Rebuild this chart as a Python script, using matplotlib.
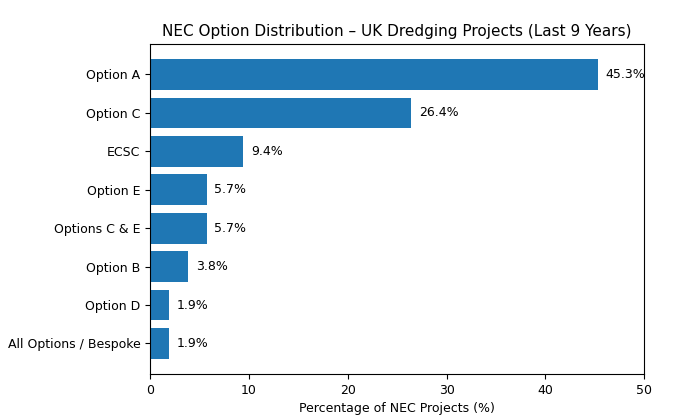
import matplotlib

matplotlib.use("Agg")
import matplotlib.pyplot as plt

options = ["Option A", "Option C", "ECSC", "Option E", "Options C & E",
           "Option B", "Option D", "All Options / Bespoke"]
shares = [45.3, 26.4, 9.4, 5.7, 5.7, 3.8, 1.9, 1.9]

fig, ax = plt.subplots(figsize=(6.83, 4.2), dpi=100)
fig.subplots_adjust(left=0.22, right=0.943, top=0.895, bottom=0.11)

bars = ax.barh(options, shares, color="#1f77b4")
ax.invert_yaxis()
for b, v in zip(bars, shares):
    ax.text(v + 0.8, b.get_y() + b.get_height() / 2, f"{v:.1f}%",
            va="center", fontsize=9)

ax.set_xlim(0, 50)
ax.set_xlabel("Percentage of NEC Projects (%)", fontsize=9)
ax.set_title("NEC Option Distribution – UK Dredging Projects (Last 9 Years)", fontsize=11)
ax.tick_params(labelsize=9)

fig.savefig("out.png", dpi=100)
